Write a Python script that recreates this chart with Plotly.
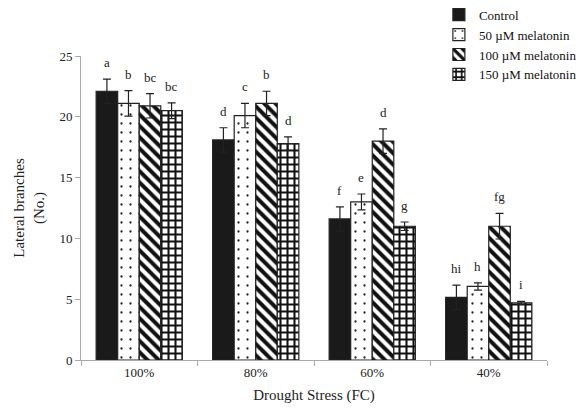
import plotly.graph_objects as go

categories = ["100%", "80%", "60%", "40%"]
series_names = ["Control", "50 µM melatonin", "100 µM melatonin", "150 µM melatonin"]
control = [22.1, 18.1, 11.6, 5.15]
mel50 = [21.1, 20.1, 13.0, 6.05]
mel100 = [20.9, 21.1, 18.0, 11.0]
mel150 = [20.5, 17.8, 11.0, 4.7]
err_control = [1.0, 1.0, 1.0, 1.0]
err_mel50 = [1.05, 1.0, 0.65, 0.3]
err_mel100 = [1.0, 1.0, 1.0, 1.05]
err_mel150 = [0.65, 0.55, 0.35, 0.12]
letters_control = ["a", "d", "f", "hi"]
letters_mel50 = ["b", "c", "e", "h"]
letters_mel100 = ["bc", "b", "d", "fg"]
letters_mel150 = ["bc", "d", "g", "i"]

values = [control, mel50, mel100, mel150]
errors = [err_control, err_mel50, err_mel100, err_mel150]
letters = [letters_control, letters_mel50, letters_mel100, letters_mel150]

patterns = [
    dict(shape="", fillmode="replace"),
    dict(shape=".", bgcolor="white", fgcolor="#222222", size=9, solidity=0.05, fillmode="replace"),
    dict(shape="\\", bgcolor="white", fgcolor="#111111", size=8, solidity=0.5, fillmode="replace"),
    dict(shape="+", bgcolor="white", fgcolor="#111111", size=7, solidity=0.5, fillmode="replace"),
]
colors = ["#1a1a1a", "white", "white", "white"]

FONT = "Liberation Serif"
TXT = "#222222"
fig = go.Figure()
for i in range(4):
    fig.add_trace(go.Bar(
        name=series_names[i],
        x=categories,
        y=values[i],
        marker=dict(color=colors[i], pattern=patterns[i], line=dict(color="#222222", width=1.2)),
        error_y=dict(type="data", array=errors[i], color="#222222", thickness=1.2, width=4),
    ))

bargap = 0.26
n = 4
w = (1 - bargap) / n
for i in range(n):
    for k in range(len(categories)):
        fig.add_annotation(
            x=k + (i - (n - 1) / 2) * w,
            y=values[i][k] + errors[i][k],
            text=letters[i][k],
            showarrow=False,
            yanchor="bottom",
            yshift=7,
            font=dict(family=FONT, size=13, color=TXT),
        )

fig.update_layout(
    width=588, height=412,
    margin=dict(l=81, r=41, t=56, b=52, autoexpand=False),
    paper_bgcolor="white", plot_bgcolor="white",
    barmode="group", bargap=bargap, bargroupgap=0,
    font=dict(family=FONT, size=13, color=TXT),
    legend=dict(x=0.768, y=1.185, xanchor="left", yanchor="top",
                font=dict(family=FONT, size=13, color="#111111"),
                bgcolor="rgba(0,0,0,0)", itemwidth=30, tracegroupgap=0),
    xaxis=dict(
        type="category",
        showline=True, linecolor="#aaaaaa", linewidth=1,
        ticks="outside", tickson="boundaries", ticklen=5, tickcolor="#aaaaaa",
        tickfont=dict(family=FONT, size=13, color=TXT),
        title=dict(text="Drought Stress (FC)", font=dict(family=FONT, size=15, color=TXT), standoff=10),
        range=[-0.5, 3.5],
    ),
    yaxis=dict(
        range=[0, 25], dtick=5, showgrid=False, zeroline=False,
        showline=True, linecolor="#aaaaaa", linewidth=1,
        ticks="outside", ticklen=5, tickcolor="#aaaaaa",
        tickfont=dict(family=FONT, size=13, color=TXT),
        title=dict(text="Lateral branches<br>(No.)", font=dict(family=FONT, size=15, color=TXT), standoff=11),
    ),
)

fig.write_html("out.html")
